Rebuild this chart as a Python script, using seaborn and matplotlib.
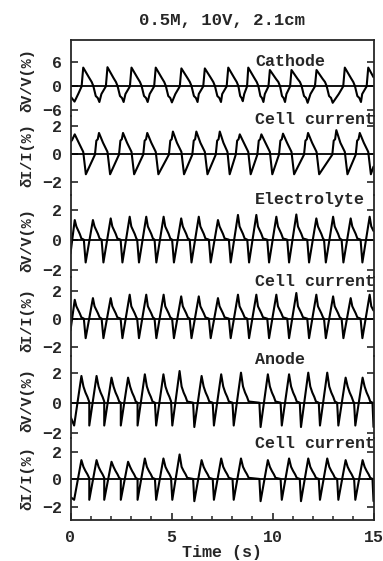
import matplotlib
matplotlib.use("Agg")
import matplotlib.pyplot as plt
from matplotlib.ticker import MultipleLocator, FixedLocator
import pandas as pd
import seaborn as sns

# ---------------- data ----------------
title = "0.5M, 10V, 2.1cm"
panel_names = ["Cathode", "Cell current", "Electrolyte", "Cell current", "Anode", "Cell current"]
ylabels = ["δV/V(%)", "δI/I(%)", "δV/V(%)", "δI/I(%)", "δV/V(%)", "δI/I(%)"]
yticks = [[-6, 0, 6], [-2, 0, 2], [-2, 0, 2], [-2, 0, 2], [-2, 0, 2], [-2, 0, 2]]
xticks = [0, 5, 10, 15]
xlabel = "Time (s)"

cathode_t = [0.00, 0.20, 0.40, 0.55, 0.63,
             0.93, 1.05, 1.13, 1.25, 1.35, 1.43, 1.53, 1.75, 1.83,
             2.13, 2.25, 2.33, 2.45, 2.55, 2.63, 2.72, 2.94, 3.02,
             3.32, 3.44, 3.52, 3.64, 3.74, 3.82, 3.92, 4.14, 4.22,
             4.52, 4.64, 4.72, 4.84, 4.94, 5.02, 5.19, 5.41, 5.49,
             5.79, 5.91, 5.99, 6.11, 6.21, 6.29, 6.35, 6.57, 6.65,
             6.95, 7.07, 7.15, 7.27, 7.37, 7.45, 7.51, 7.73, 7.81,
             8.11, 8.23, 8.31, 8.40, 8.47, 8.53, 8.60, 8.74, 8.80,
             9.10, 9.22, 9.30, 9.40, 9.48, 9.55, 9.62, 9.80, 9.87,
             10.17, 10.29, 10.37, 10.47, 10.55, 10.62, 10.69, 10.87, 10.94,
             11.24, 11.36, 11.44, 11.56, 11.66, 11.74, 11.88, 12.10, 12.18,
             12.48, 12.60, 12.68, 12.80, 12.90, 12.98, 13.28, 13.50, 13.58,
             13.88, 14.00, 14.08, 14.20, 14.30, 14.38, 14.44, 14.66, 14.74,
             15.00]
cathode_v = [-2.6, -3.9, -1.8, -0.1, 4.6,
             2.0, 1.0, 0.0, -2.5, -3.0, -4.0, -2.0, -0.1, 4.7,
             2.0, 1.0, 0.0, -2.5, -3.0, -4.0, -2.0, -0.1, 4.6,
             2.0, 1.0, 0.0, -2.5, -3.0, -4.0, -2.0, -0.1, 4.6,
             2.0, 1.0, 0.0, -2.5, -3.0, -4.1, -2.0, -0.1, 4.4,
             2.0, 1.0, 0.0, -2.5, -3.0, -4.0, -2.0, -0.1, 4.4,
             2.0, 1.0, 0.0, -2.5, -3.0, -4.0, -2.0, -0.1, 4.6,
             2.0, 1.0, 0.0, -2.5, -3.0, -3.8, -2.0, -0.1, 4.6,
             2.0, 1.0, 0.0, -2.5, -3.0, -4.0, -2.0, -0.1, 4.0,
             1.8, 1.0, 0.0, -2.5, -3.0, -4.0, -2.0, -0.1, 4.0,
             1.8, 1.0, 0.0, -2.5, -3.0, -4.2, -2.0, -0.1, 4.0,
             1.8, 1.0, 0.0, -2.5, -3.0, -4.2, -2.0, -0.1, 4.6,
             2.0, 1.0, 0.0, -2.5, -3.0, -4.0, -2.0, -0.1, 4.6,
             2.2]

currentA_t = [0.00, 0.08, 0.21,
              0.41, 0.63, 0.76, 1.21, 1.28, 1.35, 1.41,
              1.61, 1.83, 1.96, 2.40, 2.47, 2.54, 2.60,
              2.80, 3.02, 3.15, 3.60, 3.67, 3.74, 3.80,
              4.00, 4.22, 4.35, 4.87, 4.94, 5.01, 5.07,
              5.27, 5.49, 5.62, 6.03, 6.10, 6.17, 6.23,
              6.43, 6.65, 6.78, 7.19, 7.26, 7.33, 7.39,
              7.57, 7.77, 7.88, 8.18, 8.25, 8.32, 8.38,
              8.58, 8.80, 8.92, 9.25, 9.32, 9.39, 9.45,
              9.65, 9.87, 9.99, 10.32, 10.39, 10.46, 10.52,
              10.72, 10.94, 11.07, 11.56, 11.63, 11.70, 11.76,
              11.96, 12.18, 12.31, 12.96, 13.03, 13.10, 13.16,
              13.36, 13.58, 13.71, 14.12, 14.19, 14.26, 14.32,
              14.52, 14.74, 14.87, 15.00]
currentA_v = [0.85, 1.0, 1.4,
              0.8, 0.15, -1.45, -0.05, 0.95, 1.05, 1.5,
              0.8, 0.15, -1.45, -0.05, 0.95, 1.05, 1.5,
              0.8, 0.15, -1.45, -0.05, 0.95, 1.05, 1.5,
              0.8, 0.15, -1.45, -0.05, 0.95, 1.05, 1.6,
              0.8, 0.15, -1.45, -0.05, 0.95, 1.05, 1.6,
              0.8, 0.15, -1.45, -0.05, 0.95, 1.05, 1.6,
              0.8, 0.15, -1.45, -0.05, 0.95, 1.05, 1.4,
              0.8, 0.15, -1.45, -0.05, 0.95, 1.05, 1.4,
              0.8, 0.15, -1.45, -0.05, 0.95, 1.05, 1.45,
              0.8, 0.15, -1.45, -0.05, 0.95, 1.05, 1.5,
              0.8, 0.15, -1.45, -0.05, 0.95, 1.05, 1.7,
              0.8, 0.15, -1.45, -0.05, 0.95, 1.05, 1.5,
              0.8, 0.15, -1.45, -0.9]

electro_t = [0.00, 0.21,
             0.29, 0.46, 0.54, 0.66, 0.75, 1.11,
             1.19, 1.36, 1.44, 1.54, 1.63, 1.99,
             2.07, 2.24, 2.32, 2.48, 2.57, 2.93,
             3.01, 3.18, 3.26, 3.30, 3.39, 3.75,
             3.83, 4.00, 4.08, 4.16, 4.25, 4.61,
             4.69, 4.86, 4.94, 5.03, 5.12, 5.48,
             5.56, 5.73, 5.81, 5.90, 5.99, 6.35,
             6.43, 6.60, 6.68, 6.85, 6.94, 7.30,
             7.38, 7.55, 7.63, 7.84, 7.93, 8.29,
             8.37, 8.54, 8.62, 8.75, 8.84, 9.20,
             9.28, 9.45, 9.53, 9.74, 9.83, 10.19,
             10.27, 10.44, 10.52, 10.73, 10.82, 11.18,
             11.26, 11.43, 11.51, 11.72, 11.81, 12.17,
             12.25, 12.42, 12.50, 12.55, 12.64, 13.00,
             13.08, 13.25, 13.33, 13.42, 13.51, 13.87,
             13.95, 14.12, 14.20, 14.36, 14.45, 14.81,
             14.89, 15.00]
electro_v = [-0.9, 1.33,
             0.9, 0.4, 0.1, 0.02, -1.5, 1.33,
             0.9, 0.4, 0.1, 0.02, -1.5, 1.44,
             0.9, 0.4, 0.1, 0.02, -1.5, 1.55,
             0.9, 0.4, 0.1, 0.02, -1.5, 1.55,
             0.9, 0.4, 0.1, 0.02, -1.5, 1.55,
             0.9, 0.4, 0.1, 0.02, -1.5, 1.44,
             0.9, 0.4, 0.1, 0.02, -1.5, 1.55,
             0.9, 0.4, 0.1, 0.02, -1.5, 1.33,
             0.9, 0.4, 0.1, 0.02, -1.5, 1.67,
             0.9, 0.4, 0.1, 0.02, -1.5, 1.67,
             0.9, 0.4, 0.1, 0.02, -1.5, 1.55,
             0.9, 0.4, 0.1, 0.02, -1.5, 1.70,
             0.9, 0.4, 0.1, 0.02, -1.5, 1.44,
             0.9, 0.4, 0.1, 0.02, -1.5, 1.55,
             0.9, 0.4, 0.1, 0.02, -1.5, 1.44,
             0.9, 0.4, 0.1, 0.02, -1.5, 1.55,
             0.9, 0.6]

currentB_t = electro_t
currentB_v = [-0.8, 1.36,
              0.9, 0.4, 0.12, 0.03, -1.35, 1.48,
              0.9, 0.4, 0.12, 0.03, -1.35, 1.48,
              0.9, 0.4, 0.12, 0.03, -1.35, 1.72,
              0.9, 0.4, 0.12, 0.03, -1.35, 1.72,
              0.9, 0.4, 0.12, 0.03, -1.35, 1.72,
              0.9, 0.4, 0.12, 0.03, -1.35, 1.60,
              0.9, 0.4, 0.12, 0.03, -1.35, 1.60,
              0.9, 0.4, 0.12, 0.03, -1.35, 1.48,
              0.9, 0.4, 0.12, 0.03, -1.35, 1.72,
              0.9, 0.4, 0.12, 0.03, -1.35, 1.72,
              0.9, 0.4, 0.12, 0.03, -1.35, 1.72,
              0.9, 0.4, 0.12, 0.03, -1.35, 1.84,
              0.9, 0.4, 0.12, 0.03, -1.35, 1.72,
              0.9, 0.4, 0.12, 0.03, -1.35, 1.60,
              0.9, 0.4, 0.12, 0.03, -1.35, 1.48,
              0.9, 0.4, 0.12, 0.03, -1.35, 1.72,
              0.9, 0.6]

anode_t = [0.00, 0.18, 0.54,
           0.64, 0.74, 0.84, 0.92, 0.93, 0.93, 1.29,
           1.39, 1.49, 1.59, 1.67, 1.67, 1.67, 2.03,
           2.13, 2.23, 2.33, 2.41, 2.49, 2.49, 2.85,
           2.95, 3.05, 3.15, 3.23, 3.32, 3.32, 3.68,
           3.78, 3.88, 3.98, 4.06, 4.18, 4.24, 4.60,
           4.70, 4.80, 4.90, 4.98, 4.98, 5.04, 5.40,
           5.50, 5.60, 5.70, 5.78, 6.07, 6.13, 6.49,
           6.59, 6.69, 6.79, 6.87, 7.04, 7.10, 7.46,
           7.56, 7.66, 7.76, 7.84, 8.02, 8.08, 8.44,
           8.54, 8.64, 8.74, 8.82, 9.35, 9.41, 9.77,
           9.87, 9.97, 10.07, 10.15, 10.40, 10.46, 10.82,
           10.92, 11.02, 11.12, 11.20, 11.35, 11.41, 11.77,
           11.87, 11.97, 12.07, 12.15, 12.29, 12.35, 12.71,
           12.81, 12.91, 13.01, 13.09, 13.20, 13.26, 13.62,
           13.72, 13.82, 13.92, 14.00, 14.04, 14.10, 14.46,
           14.56, 14.66, 14.76, 14.84, 14.95, 15.00]
anode_v = [-0.9, -1.5, 1.80,
           1.1, 0.7, 0.4, 0.1, 0.02, -1.5, 1.80,
           1.1, 0.7, 0.4, 0.1, 0.02, -1.5, 1.69,
           1.1, 0.7, 0.4, 0.1, 0.02, -1.5, 1.69,
           1.1, 0.7, 0.4, 0.1, 0.02, -1.5, 1.91,
           1.1, 0.7, 0.4, 0.1, 0.02, -1.5, 1.91,
           1.1, 0.7, 0.4, 0.1, 0.02, -1.5, 2.13,
           1.1, 0.7, 0.4, 0.1, 0.02, -1.6, 1.80,
           1.1, 0.7, 0.4, 0.1, 0.02, -1.5, 1.91,
           1.1, 0.7, 0.4, 0.1, 0.02, -1.5, 2.02,
           1.1, 0.7, 0.4, 0.1, 0.02, -1.6, 1.91,
           1.1, 0.7, 0.4, 0.1, 0.02, -1.5, 1.91,
           1.1, 0.7, 0.4, 0.1, 0.02, -1.6, 2.02,
           1.1, 0.7, 0.4, 0.1, 0.02, -1.5, 2.02,
           1.1, 0.7, 0.4, 0.1, 0.02, -1.5, 1.69,
           1.1, 0.7, 0.4, 0.1, 0.02, -1.5, 1.69,
           1.1, 0.7, 0.4, 0.1, 0.02, -1.6]

currentC_t = anode_t
currentC_v = [-1.3, -1.5, 1.39,
              0.9, 0.6, 0.35, 0.1, 0.02, -1.5, 1.39,
              0.9, 0.6, 0.35, 0.1, 0.02, -1.5, 1.27,
              0.9, 0.6, 0.35, 0.1, 0.02, -1.5, 1.27,
              0.9, 0.6, 0.35, 0.1, 0.02, -1.5, 1.51,
              0.9, 0.6, 0.35, 0.1, 0.02, -1.5, 1.51,
              0.9, 0.6, 0.35, 0.1, 0.02, -1.5, 1.80,
              0.9, 0.6, 0.35, 0.1, 0.02, -1.6, 1.39,
              0.9, 0.6, 0.35, 0.1, 0.02, -1.5, 1.51,
              0.9, 0.6, 0.35, 0.1, 0.02, -1.5, 1.51,
              0.9, 0.6, 0.35, 0.1, 0.02, -1.6, 1.39,
              0.9, 0.6, 0.35, 0.1, 0.02, -1.5, 1.51,
              0.9, 0.6, 0.35, 0.1, 0.02, -1.6, 1.51,
              0.9, 0.6, 0.35, 0.1, 0.02, -1.5, 1.51,
              0.9, 0.6, 0.35, 0.1, 0.02, -1.5, 1.39,
              0.9, 0.6, 0.35, 0.1, 0.02, -1.5, 1.39,
              0.9, 0.6, 0.35, 0.1, 0.02, -1.6]

series = [(cathode_t, cathode_v), (currentA_t, currentA_v),
          (electro_t, electro_v), (currentB_t, currentB_v),
          (anode_t, anode_v), (currentC_t, currentC_v)]

# ---------------- layout ----------------
sns.set_style("ticks")
plt.rcParams['font.family'] = ['Liberation Mono', 'DejaVu Sans']
plt.rcParams['font.weight'] = 'bold'
plt.rcParams['axes.unicode_minus'] = True

W, H = 383, 561
fig = plt.figure(figsize=(W / 100, H / 100), dpi=100)
XL, XR = 70.5, 373.5
spans = [(40, 116), (116, 195), (195, 277), (277, 356), (356, 438), (438, 520)]
ylims = [(-7.5, 11.5), (-2.93, 2.71), (-2.47, 3.0), (-2.61, 2.97), (-2.33, 3.13), (-2.97, 3.0)]
label_y = [62, 119, 200, 281, 360, 443]
ylab_y = [80, 155, 240, 320, 400, 478]
FS = 12

for i, ((t, v), (top, bot)) in enumerate(zip(series, spans)):
    ax = fig.add_axes([XL / W, 1 - bot / H, (XR - XL) / W, (bot - top) / H])
    ax.set_facecolor('none')
    df = pd.DataFrame({"t": t, "v": v})
    ax.axhline(0, color='black', lw=1.3, zorder=1)
    sns.lineplot(data=df, x="t", y="v", ax=ax, color='black', lw=1.5,
                 sort=False, estimator=None, zorder=2)
    ax.set_xlim(0, 15)
    ax.set_ylim(*ylims[i])
    ax.set_xlabel("")
    ax.set_ylabel("")
    ax.yaxis.set_major_locator(FixedLocator(yticks[i]))
    ax.tick_params(axis='y', direction='in', length=5, width=1.2, right=True,
                   left=True, labelsize=FS, pad=6)
    for s in ['left', 'right', 'top', 'bottom']:
        ax.spines[s].set_linewidth(1.3)
    ax.spines['top'].set_visible(i == 0)
    ax.spines['bottom'].set_visible(i == len(series) - 1)
    if i == len(series) - 1:
        ax.xaxis.set_major_locator(FixedLocator(xticks))
        ax.xaxis.set_minor_locator(MultipleLocator(1))
        ax.tick_params(axis='x', which='major', direction='in', length=5, width=1.2,
                       labelsize=FS, pad=7, top=False)
        ax.tick_params(axis='x', which='minor', direction='in', length=3, width=1.1, top=False)
    else:
        ax.tick_params(axis='x', which='both', bottom=False, top=False, labelbottom=False)
    fig.text(27 / W, 1 - ylab_y[i] / H, ylabels[i], rotation=90, ha='center', va='center',
             fontsize=11)
    fig.text(255 / W, 1 - label_y[i] / H, panel_names[i], ha='left', va='center', fontsize=FS)

fig.text((XL + XR) / 2 / W, 1 - 20 / H, title, ha='center', va='center', fontsize=12.5)
fig.text((XL + XR) / 2 / W, 1 - 552 / H, xlabel, ha='center', va='center', fontsize=FS)

fig.savefig("out.png", dpi=100, facecolor='white')
